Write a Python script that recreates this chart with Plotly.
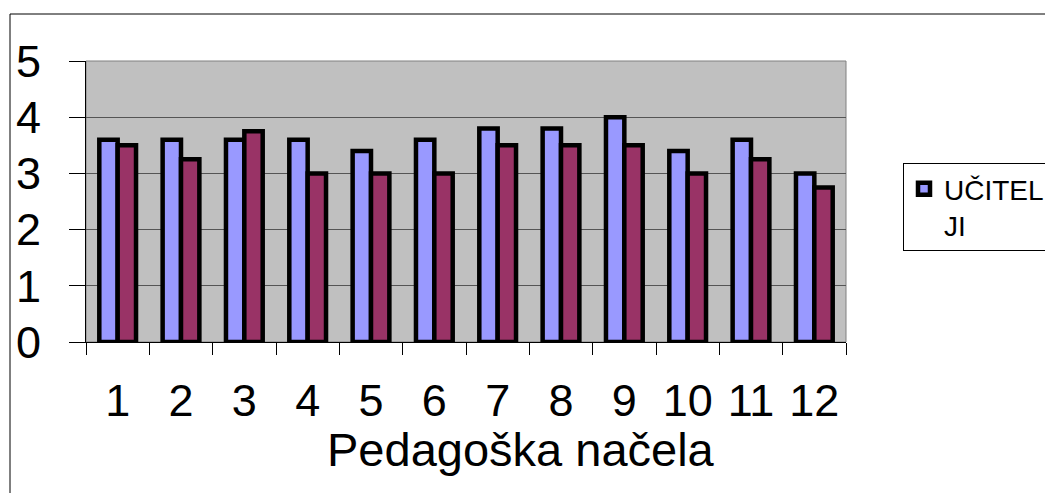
import plotly.graph_objects as go

categories = ["1", "2", "3", "4", "5", "6", "7", "8", "9", "10", "11", "12"]
ucitelji = [3.6, 3.6, 3.6, 3.6, 3.4, 3.6, 3.8, 3.8, 4.0, 3.4, 3.6, 3.0]
ucenici = [3.5, 3.25, 3.75, 3.0, 3.0, 3.0, 3.5, 3.5, 3.5, 3.0, 3.25, 2.75]
y_ticks = [0, 1, 2, 3, 4, 5]
x_title = "Pedagoška načela"

FONT = "Liberation Sans, Arial, sans-serif"

# page body has an 8px margin; figure is sized/shifted to compensate
OFF = 8
PL, PT, PW, PH = 86, 61, 760, 281   # plot area in window pixels
W, H = 1053 - OFF, 493 - OFF

def px(x):
    return (x - PL) / PW

def py(y):
    return (PT + PH - y) / PH

fig = go.Figure()
fig.add_trace(go.Bar(
    x=categories, y=ucitelji, name="UČITEL<br>JI",
    marker=dict(color="#9999FF", line=dict(color="black", width=4.5)),
))
fig.add_trace(go.Bar(
    x=categories, y=ucenici, name="UČENICI", showlegend=False,
    marker=dict(color="#993366", line=dict(color="black", width=4.5)),
))

fig.update_layout(
    width=W, height=H,
    margin=dict(l=PL - OFF, r=W - (PL - OFF) - PW, t=PT - OFF, b=H - (PT - OFF) - PH,
                autoexpand=False),
    paper_bgcolor="white",
    plot_bgcolor="#C0C0C0",
    barmode="group",
    bargap=0.42,
    bargroupgap=0,
    font=dict(family=FONT, color="black"),
    xaxis=dict(
        type="category",
        tickson="boundaries",
        ticks="outside", ticklen=12, tickcolor="black", tickwidth=1,
        showline=True, linecolor="black", linewidth=1,
        tickfont=dict(size=45, family=FONT),
        ticklabelstandoff=19,
        showgrid=False,
        automargin=False,
    ),
    yaxis=dict(
        range=[0, 5],
        tickvals=y_ticks,
        ticks="outside", ticklen=16, tickcolor="black", tickwidth=1,
        showline=True, linecolor="black", linewidth=1,
        tickfont=dict(size=45, family=FONT),
        ticklabelstandoff=19,
        showgrid=True, gridcolor="#555555", gridwidth=1,
        zeroline=False,
        automargin=False,
    ),
    legend=dict(
        x=px(903), xanchor="left",
        y=py(163), yanchor="top",
        bordercolor="black", borderwidth=1,
        bgcolor="white",
        font=dict(size=28, family=FONT),
        itemwidth=30,
        valign="top",
        tracegroupgap=0,
    ),
    showlegend=True,
)

# plot area border (gray) and outer chart border
fig.add_shape(type="rect", xref="paper", yref="paper", x0=0, y0=0, x1=1, y1=1,
              line=dict(color="#808080", width=1), layer="below")
fig.add_shape(type="rect", xref="paper", yref="paper",
              x0=px(10), y0=py(520), x1=px(1080), y1=py(14),
              line=dict(color="black", width=1))

fig.add_annotation(text=x_title, xref="paper", yref="paper",
                   x=px(521), y=py(449),
                   xanchor="center", yanchor="middle", showarrow=False,
                   font=dict(size=47, family=FONT, color="black"))

fig.write_html("out.html")
